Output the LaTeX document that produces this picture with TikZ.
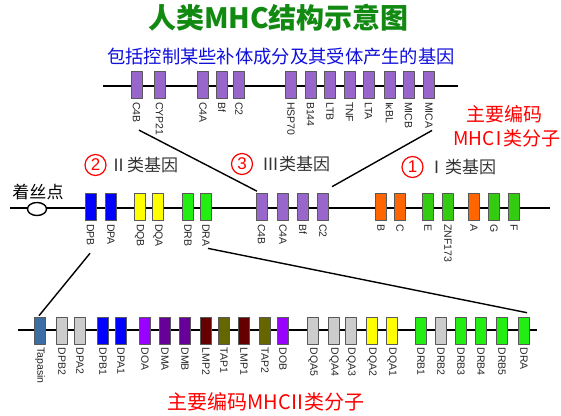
\documentclass[tikz,border=0pt]{standalone}
\usepackage{fontspec}
\setmainfont{Liberation Sans}
\newfontfamily\cjk{Noto Sans CJK SC}
\usepackage{tikz}
\usetikzlibrary{shapes.geometric}

\definecolor{gpurple}{HTML}{9966CC}
\definecolor{gorange}{HTML}{FF6600}
\definecolor{ggreen}{HTML}{33CC11}
\definecolor{gbright}{HTML}{22EE11}
\definecolor{gblue}{HTML}{0000FF}
\definecolor{gyellow}{HTML}{FFFF00}
\definecolor{ggray}{HTML}{CCCCCC}
\definecolor{gsteel}{HTML}{3A6EA5}
\definecolor{gviolet}{HTML}{9900FF}
\definecolor{gplum}{HTML}{660099}
\definecolor{gmaroon}{HTML}{660000}
\definecolor{golive}{HTML}{666600}
\definecolor{titlegreen}{HTML}{128A12}
\definecolor{subblue}{HTML}{1010DD}

\tikzset{
  gene/.style={draw=black!65,line width=0.6pt,minimum width=11pt,minimum height=27pt,inner sep=0pt},
  glabel/.style={rotate=-90,anchor=west,inner sep=0pt,font=\fontsize{10.5}{10.5}\selectfont,text=black!85},
  chrom/.style={line width=2pt},
  link/.style={line width=1.4pt},
  circnum/.style={circle,draw=red,line width=1.2pt,text=red,inner sep=0pt,minimum size=21pt,font=\fontsize{17}{17}\selectfont},
  classtxt/.style={anchor=west,inner sep=0pt,text=black!80,font=\cjk\fontsize{17}{17}\selectfont},
  redtxt/.style={inner sep=0pt,text=red,font=\cjk\fontsize{19}{19}\selectfont}
}

\begin{document}
\begin{tikzpicture}[x=1pt,y=-1pt,line join=round]
\useasboundingbox (0,0) rectangle (561,415);
\fill[white] (0,0) rectangle (561,415);
% titles
\node[inner sep=0pt,text=titlegreen,font=\cjk\bfseries\fontsize{28}{28}\selectfont] (title) at (278.5,18) {人类MHC结构示意图};
\node[inner sep=0pt,text=subblue,font=\cjk\fontsize{18.3}{18.3}\selectfont] (sub) at (281,57) {包括控制某些补体成分及其受体产生的基因};
% chromosomes
\draw[chrom] (103,85.5) -- (458,85.5);
\draw[chrom] (10,208) -- (550,208);
\draw[chrom] (18,330) -- (537,330);
% top row: class III region
\foreach \g/\x [count=\i] in {C4B/136.5,CYP21/159.5,C4A/203,Bf/222,C2/239,HSP70/291,B144/310.5,LTB/330,TNF/349.5,LTA/368.5,IκBL/389.5,MICB/408.5,MICA/429}{
  \node[gene,fill=gpurple] (top\i) at (\x,85) {};
  \node[glabel] (ltop\i) at ([yshift=-3pt]top\i.south) {\g};}
% middle row
\foreach \g/\x/\c [count=\i] in {DPB/90.5/gblue,DPA/111/gblue,DQB/139.5/gyellow,DQA/158/gyellow,DRB/188/gbright,DRA/206/gbright,C4B/261.5/gpurple,C4A/283/gpurple,Bf/303/gpurple,C2/323/gpurple,B/381/gorange,C/400/gorange,E/428/ggreen,ZNF173/448/ggreen,A/474/gorange,G/494/ggreen,F/514/ggreen}{
  \node[gene,fill=\c] (mid\i) at (\x,207) {};
  \node[glabel] (lmid\i) at ([yshift=-3pt]mid\i.south) {\g};}
% bottom row: class II region
\foreach \g/\x/\c [count=\i] in {Tapasin/40/gsteel,DPB2/62/ggray,DPA2/80/ggray,DPB1/103/gblue,DPA1/121/gblue,DOA/145/gviolet,DMA/165/gplum,DMB/185/gplum,LMP2/206/gmaroon,TAP1/224/golive,LMP1/244/gmaroon,TAP2/265/golive,DOB/283/gviolet,DQA5/313/ggray,DQA4/334/ggray,DQA3/351/ggray,DQA2/372/gyellow,DQA1/392/gyellow,DRB1/421/gbright,DRB2/441/ggray,DRB3/461/gbright,DRB4/481/gbright,DRB5/502/gbright,DRA/524/gbright}{
  \node[gene,fill=\c] (bot\i) at (\x,330.5) {};
  \node[glabel] (lbot\i) at ([yshift=-3pt]bot\i.south) {\g};}
% centromere
\node[ellipse,draw,line width=1.4pt,fill=white,minimum width=19pt,minimum height=13pt,inner sep=0pt] (cen) at (37,209) {};
\node[inner sep=0pt,font=\cjk\fontsize{17}{17}\selectfont] (cenlab) at (38,192) {着丝点};
% class headings
\node[circnum] (n2) at (95.5,165) {2};
\node[classtxt] (cls2) at (110,165) {Ⅱ类基因};
\node[circnum] (n3) at (242,164) {3};
\node[classtxt] (cls3) at (262,164) {Ⅲ类基因};
\node[circnum] (n1) at (412.5,167) {1};
\node[classtxt] (cls1) at (428,167) {Ⅰ类基因};
% red notes
\node[redtxt] (mhc1a) at (504.5,114) {主要编码};
\node[redtxt] (mhc1b) at (507,138) {MHC\kern-5ptⅠ\kern-5pt类分子};
\node[redtxt,font=\cjk\fontsize{20}{20}\selectfont] (mhc2) at (266,402) {主要编码MHC\kern-3ptⅡ\kern-3pt类分子};
% zoom lines
\draw[link] ([shift={(2.5pt,-7.5pt)}]ltop1.east) -- ([shift={(-4.5pt,2pt)}]mid7.north);
\draw[link] ([shift={(3pt,-2pt)}]ltop13.east) -- ([shift={(9pt,6.5pt)}]mid10.north);
\draw[link] ([shift={(-0.5pt,-7.5pt)}]lmid1.east) -- ([shift={(-1pt,1pt)}]bot1.north);
\draw[link] ([shift={(2pt,-2pt)}]lmid6.east) -- ([shift={(3pt,4pt)}]bot24.north);
\end{tikzpicture}
\end{document}
